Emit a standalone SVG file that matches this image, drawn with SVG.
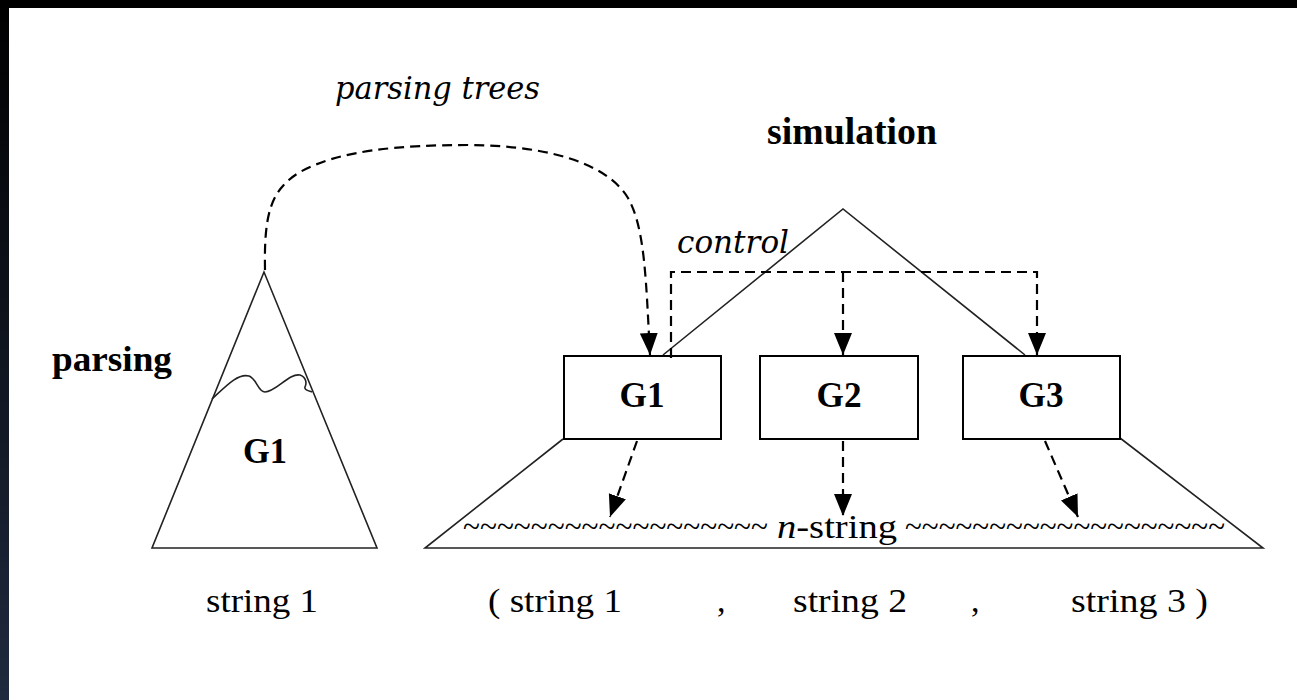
<svg xmlns="http://www.w3.org/2000/svg" width="1297" height="700" viewBox="0 0 1297 700">
<style>
.serif{font-family:"Liberation Serif","Times New Roman",serif;fill:#000}
.b{font-weight:bold}
.it{font-family:"DejaVu Serif","Liberation Serif",serif;font-style:italic;fill:#000}
.solid{fill:none;stroke:#222;stroke-width:1.6}
.box{fill:#fff;stroke:#000;stroke-width:2}
.dash{fill:none;stroke:#000;stroke-width:2.2;stroke-dasharray:10 6}
</style>
<defs>
<linearGradient id="edge" x1="0" y1="0" x2="0" y2="1">
<stop offset="0" stop-color="#000"/>
<stop offset="1" stop-color="#1f2a3e"/>
</linearGradient>
<marker id="ah" markerUnits="userSpaceOnUse" markerWidth="24" markerHeight="20" refX="22" refY="9" orient="auto">
<path d="M0,0 L22,9 L0,18 Z" fill="#000"/>
</marker>
</defs>
<rect x="0" y="0" width="1297" height="700" fill="#fff"/>
<rect x="0" y="0" width="1297" height="8" fill="#000"/>
<rect x="0" y="0" width="9" height="700" fill="url(#edge)"/>

<g id="parsing-tree">
<polygon class="solid" points="264,272 152,548 377,548"/>
<path class="solid" d="M212,399 C226,386 238,373 249,376 C257,379 258,392 265,392 C276,392 289,373 300,375 C306,377 307,383 305,387 C304,390 309,391 312,392"/>
<text class="serif b" x="265" y="463" font-size="35" text-anchor="middle" textLength="44" lengthAdjust="spacingAndGlyphs">G1</text>
</g>
<text class="serif b" x="52" y="371" font-size="36" textLength="120" lengthAdjust="spacingAndGlyphs">parsing</text>
<text class="serif" x="206" y="612" font-size="34" textLength="112" lengthAdjust="spacingAndGlyphs">string 1</text>

<text class="it" x="335" y="99" font-size="31" textLength="205" lengthAdjust="spacingAndGlyphs">parsing trees</text>
<text class="serif b" x="767" y="144" font-size="37" textLength="170" lengthAdjust="spacingAndGlyphs">simulation</text>
<text class="it" x="677" y="253" font-size="32" textLength="112" lengthAdjust="spacingAndGlyphs">control</text>

<g id="simulation-frame">
<polyline class="solid" points="663,355 843,209 1025,355"/>
<polyline class="solid" points="563,439 425,548 1263,548 1120,438"/>
</g>

<g id="box-g1">
<rect class="box" x="564" y="356" width="157" height="83"/>
<text class="serif b" x="642" y="407" font-size="35" text-anchor="middle" textLength="45" lengthAdjust="spacingAndGlyphs">G1</text>
</g>
<g id="box-g2">
<rect class="box" x="760" y="356" width="158" height="83"/>
<text class="serif b" x="839" y="407" font-size="35" text-anchor="middle" textLength="45" lengthAdjust="spacingAndGlyphs">G2</text>
</g>
<g id="box-g3">
<rect class="box" x="963" y="356" width="157" height="83"/>
<text class="serif b" x="1041" y="407" font-size="35" text-anchor="middle" textLength="45" lengthAdjust="spacingAndGlyphs">G3</text>
</g>

<g id="n-string">
<text class="serif" x="463" y="537" font-size="31" textLength="305" lengthAdjust="spacingAndGlyphs">~~~~~~~~~~~~~~~~~~</text>
<text class="serif" x="777" y="538" font-size="34" textLength="120" lengthAdjust="spacingAndGlyphs"><tspan font-style="italic">n</tspan>-string</text>
<text class="serif" x="905" y="537" font-size="31" textLength="320" lengthAdjust="spacingAndGlyphs">~~~~~~~~~~~~~~~~~~~</text>
</g>

<g id="strings">
<text class="serif" x="488" y="612" font-size="34" textLength="134" lengthAdjust="spacingAndGlyphs">( string 1</text>
<text class="serif" x="717" y="612" font-size="34">,</text>
<text class="serif" x="793" y="612" font-size="34" textLength="114" lengthAdjust="spacingAndGlyphs">string 2</text>
<text class="serif" x="971" y="612" font-size="34">,</text>
<text class="serif" x="1071" y="612" font-size="34" textLength="137" lengthAdjust="spacingAndGlyphs">string 3 )</text>
</g>

<g id="connectors">
<path class="dash" d="M265,270 C264,215 270,190 300,172 C340,150 400,145 470,145 C560,146 610,168 628,198 C645,228 646,280 650,355" marker-end="url(#ah)"/>
<path class="dash" d="M671,358 L671,272 L1037,272 L1037,355" marker-end="url(#ah)"/>
<path class="dash" d="M843,272 L843,355" marker-end="url(#ah)"/>
<path class="dash" d="M637,441 L610,517" marker-end="url(#ah)"/>
<path class="dash" d="M843,441 L843,516" marker-end="url(#ah)"/>
<path class="dash" d="M1045,441 L1078,517" marker-end="url(#ah)"/>
</g>
</svg>
